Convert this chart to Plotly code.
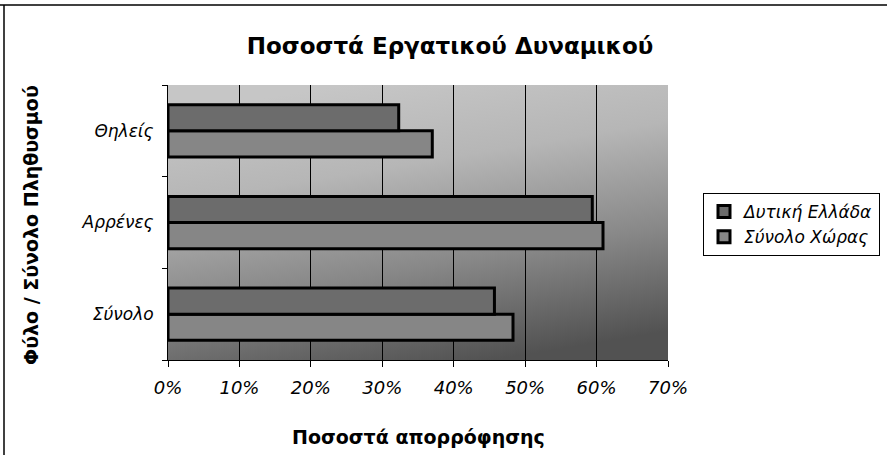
import base64
import plotly.graph_objects as go

categories = ["Σύνολο", "Αρρένες", "Θηλείς"]
dytiki_ellada = [45.7, 59.4, 32.3]
synolo_xoras = [48.3, 60.9, 37.0]
x_ticks = [0, 10, 20, 30, 40, 50, 60, 70]
x_tick_labels = ["0%", "10%", "20%", "30%", "40%", "50%", "60%", "70%"]

FONT = "DejaVu Sans, Arial, sans-serif"

W, H = 887, 469
L, R, T, B = 168, 668, 85, 360  # plot area in pixels
PW, PH = R - L, B - T


def px(x):
    return (x - L) / PW


def py(y):
    return (B - y) / PH


svg = """<svg xmlns='http://www.w3.org/2000/svg' width='400' height='300' preserveAspectRatio='none' viewBox='0 0 400 300'>
<defs><linearGradient id='g' x1='0.35' y1='0' x2='0.65' y2='1'>
<stop offset='0' stop-color='#c6c6c6'/>
<stop offset='0.3' stop-color='#b6b6b6'/>
<stop offset='0.65' stop-color='#888888'/>
<stop offset='1' stop-color='#525252'/>
</linearGradient></defs>
<rect x='0' y='0' width='400' height='300' fill='url(#g)'/>
</svg>"""
bg_uri = "data:image/svg+xml;base64," + base64.b64encode(svg.encode()).decode()

fig = go.Figure()
fig.add_trace(go.Bar(
    y=categories, x=synolo_xoras, orientation="h", name="Σύνολο Χώρας",
    marker=dict(color="#868686", line=dict(color="black", width=3)),
))
fig.add_trace(go.Bar(
    y=categories, x=dytiki_ellada, orientation="h", name="Δυτική Ελλάδα",
    marker=dict(color="#6c6c6c", line=dict(color="black", width=3)),
))

fig.update_layout(
    width=W, height=H,
    margin=dict(l=L, r=W - R, t=T, b=H - B, autoexpand=False),
    paper_bgcolor="white",
    plot_bgcolor="rgba(0,0,0,0)",
    barmode="group", bargap=0.43, bargroupgap=0,
    font=dict(family=FONT, color="black"),
    title=dict(text="<b>Ποσοστά Εργατικού Δυναμικού</b>", x=450 / W, xref="container",
               xanchor="center", y=1 - 46 / H, yanchor="middle", font=dict(size=23, family=FONT)),
    xaxis=dict(
        range=[0, 70], tickvals=x_ticks, ticktext=x_tick_labels,
        showgrid=True, gridcolor="black", gridwidth=1,
        showline=True, linecolor="black", linewidth=1,
        ticks="outside", ticklen=6, tickcolor="black", ticklabelstandoff=5,
        tickfont=dict(size=18, style="italic", family=FONT),
        zeroline=False, fixedrange=True,
    ),
    yaxis=dict(
        showline=True, linecolor="black", linewidth=1,
        ticks="outside", ticklen=5, tickcolor="black", tickson="boundaries",
        ticklabelstandoff=10,
        tickfont=dict(size=17, style="italic", family=FONT),
        showgrid=False, fixedrange=True,
    ),
    legend=dict(
        xref="container", yref="container",
        x=703 / W, y=1 - 193 / H, xanchor="left", yanchor="top",
        bgcolor="white", bordercolor="black", borderwidth=1,
        traceorder="reversed", font=dict(size=17, style="italic", family=FONT),
        itemwidth=30,
    ),
    annotations=[
        dict(text="<b>Ποσοστά απορρόφησης</b>", xref="paper", yref="paper",
             x=0.5, y=py(437), xanchor="center", yanchor="middle", showarrow=False,
             font=dict(size=19, family=FONT)),
        dict(text="<b>Φύλο / Σύνολο Πληθυσμού</b>", xref="paper", yref="paper",
             x=px(31), y=py(225), xanchor="center", yanchor="middle", showarrow=False,
             textangle=-90, font=dict(size=19, family=FONT)),
    ],
    images=[dict(source=bg_uri, xref="paper", yref="paper", x=0, y=1, sizex=1, sizey=1,
                 xanchor="left", yanchor="top", sizing="stretch", layer="below")],
    shapes=[
        dict(type="line", xref="paper", yref="paper", x0=px(0), x1=px(W),
             y0=py(5), y1=py(5), line=dict(color="black", width=1.5)),
        dict(type="line", xref="paper", yref="paper", x0=px(4), x1=px(4),
             y0=py(5), y1=py(455), line=dict(color="black", width=1.5)),
    ],
)

fig.write_html("out.html", config={"displayModeBar": False},
               post_script="document.body.style.margin='0';")
